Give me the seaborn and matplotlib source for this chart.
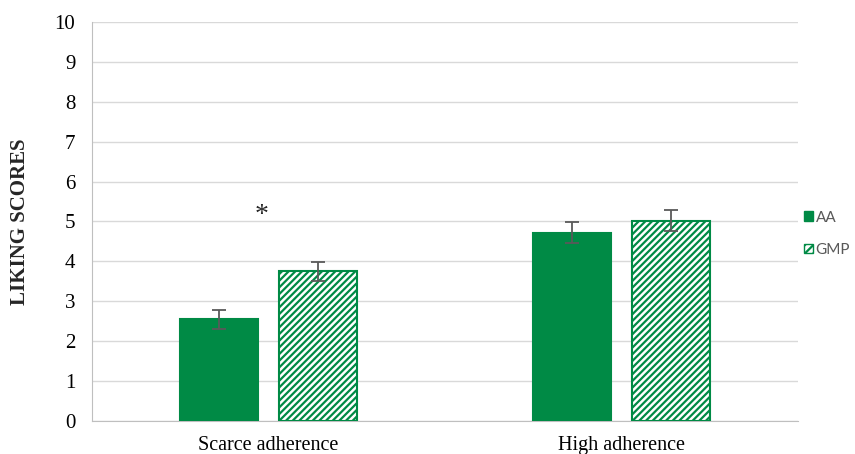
import numpy as np
import pandas as pd
import matplotlib
matplotlib.use("Agg")
import matplotlib.pyplot as plt
import seaborn as sns
from matplotlib.patches import Patch

# --- data ---
groups = ["Scarce adherence", "High adherence"]
series = ["AA", "GMP"]
aa_means = [2.55, 4.72]
gmp_means = [3.75, 5.02]
aa_err = [0.24, 0.27]
gmp_err = [0.23, 0.26]
y_ticks = list(range(0, 11))

green = "#008A45"

df = pd.DataFrame({
    "group": groups * 2,
    "series": ["AA"] * 2 + ["GMP"] * 2,
    "score": aa_means + gmp_means,
    "err": aa_err + gmp_err,
})

sns.set_style("white")
plt.rcParams["hatch.linewidth"] = 1.6
plt.rcParams["hatch.color"] = green

fig = plt.figure(figsize=(8.55, 4.54), dpi=100)
ax = fig.add_axes([92 / 855, 33 / 454, 706 / 855, 399 / 454])

sns.barplot(data=df, x="group", y="score", hue="series", order=groups,
            hue_order=series, palette=[green, green], saturation=1,
            width=0.56, gap=0.21, errorbar=None, legend=False, ax=ax, zorder=3)

# style bars: GMP gets white fill with green diagonal hatch
for cont, name in zip(ax.containers, series):
    for bar in cont:
        bar.set_edgecolor(green)
        bar.set_linewidth(1.5)
        if name == "GMP":
            bar.set_facecolor("white")
            bar.set_hatch("/////")

# error bars at the bar centres
for cont, name in zip(ax.containers, series):
    sub = df[df["series"] == name].set_index("group").loc[groups]
    xs = [b.get_x() + b.get_width() / 2 for b in cont]
    ax.errorbar(xs, sub["score"], yerr=sub["err"], fmt="none",
                ecolor="#595959", elinewidth=1.3, capsize=5, capthick=1.3,
                zorder=4)

# significance marker
ax.text(-0.02, 5.15, "*", ha="center", va="center", fontsize=20,
        family="Liberation Serif")

ax.set_ylim(0, 10)
ax.set_xlim(-0.5, 1.5)
ax.set_yticks(y_ticks)
ax.yaxis.grid(True, color="#D9D9D9", linewidth=1, zorder=0)
ax.set_axisbelow(True)
for s in ["top", "right"]:
    ax.spines[s].set_visible(False)
ax.spines["left"].set_color("#BFBFBF")
ax.spines["bottom"].set_color("#BFBFBF")
ax.tick_params(axis="y", length=0, labelsize=15, colors="black", pad=12)
ax.tick_params(axis="x", length=0, labelsize=14.5, colors="black", pad=11)
for lab in ax.get_xticklabels() + ax.get_yticklabels():
    lab.set_family("Liberation Serif")
ax.set_xlabel("")
ax.set_ylabel("LIKING SCORES", fontsize=15, fontweight="bold",
              family="Liberation Serif", labelpad=18)

handles = [Patch(facecolor=green, edgecolor=green, label="AA"),
           Patch(facecolor="white", edgecolor=green, hatch="////", label="GMP")]
fig.legend(handles=handles, loc="center left", bbox_to_anchor=(798 / 855, 0.485),
           frameon=False, handlelength=0.6, handleheight=0.6, handletextpad=0.15,
           labelspacing=1.2, prop={"family": "Lato", "size": 11},
           labelcolor="#595959", borderaxespad=0)

fig.savefig("out.png", dpi=100)
